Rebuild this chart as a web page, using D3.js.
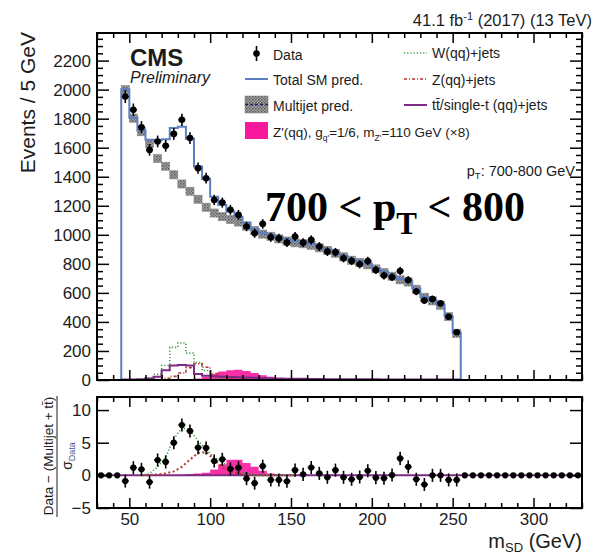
<!DOCTYPE html>
<html>
<head>
<meta charset="utf-8">
<script src="https://cdn.jsdelivr.net/npm/d3@7"></script>
<style>
  body { margin: 0; background: #fff; }
  svg { font-family: "Liberation Sans", Arial, sans-serif; }
</style>
</head>
<body>
<svg id="chart" width="595" height="555"></svg>
<script>
// bin centres (5 GeV bins)
const massCenters = d3.range(47.5, 255, 5);   // 45..255, 42 bins with data
const ratioCenters = d3.range(32.5, 330, 5);  // full axis, 60 bins
const curveCenters = d3.range(57.5, 155, 5);  // where the resonance curves live

// top panel, events / 5 GeV
const dataCounts = [1952, 1861, 1741, 1585, 1643, 1613, 1695, 1792, 1666, 1459,
  1390, 1240, 1222, 1172, 1137, 1057, 1011, 1075, 983, 976,
  946, 988, 946, 965, 919, 884, 880, 839, 820, 797,
  820, 758, 719, 708, 751, 689, 609, 547, 558, 528,
  436, 329];
const totalSM = [2003, 1806, 1718, 1655, 1652, 1658, 1735, 1745, 1662, 1470,
  1385, 1262, 1205, 1160, 1125, 1085, 1040, 1015, 1000, 983,
  968, 955, 947, 936, 918, 900, 880, 855, 832, 816,
  800, 771, 745, 720, 695, 680, 630, 574, 549, 519,
  440, 325];
const multijet = [2000, 1803, 1710, 1630, 1525, 1472, 1413, 1350, 1300, 1245,
  1190, 1150, 1125, 1105, 1088, 1060, 1030, 1005, 990, 972,
  957, 945, 938, 928, 910, 893, 873, 848, 825, 810,
  793, 765, 740, 715, 690, 675, 625, 570, 545, 515,
  436, 322];
const wJets = [0, 0, 3, 15, 40, 100, 225, 255, 185, 120,
  65, 25, 10, 5, 3, 2, 1, 1, 1, 1,
  1, 0, 0, 0, 0, 0, 0, 0, 0, 0,
  0, 0, 0, 0, 0, 0, 0, 0, 0, 0,
  0, 0];
const zJets = [0, 0, 1, 2, 5, 12, 25, 48, 85, 112,
  88, 45, 22, 10, 5, 3, 1, 1, 0, 0,
  0, 0, 0, 0, 0, 0, 0, 0, 0, 0,
  0, 0, 0, 0, 0, 0, 0, 0, 0, 0,
  0, 0];
const ttJets = [3, 4, 5, 10, 22, 68, 100, 103, 100, 42,
  30, 26, 23, 21, 19, 17, 15, 13, 11, 10,
  9, 8, 8, 7, 7, 6, 6, 6, 5, 5,
  5, 5, 4, 4, 4, 4, 4, 3, 3, 3,
  3, 3];
const zPrime = [0, 0, 0, 0, 0, 0, 0, 2, 5, 10,
  22, 42, 58, 68, 70, 62, 48, 33, 22, 14,
  9, 5, 2, 0, 0, 0, 0, 0, 0, 0,
  0, 0, 0, 0, 0, 0, 0, 0, 0, 0,
  0, 0];

// lower panel, (Data - (Multijet + tt)) / sigma
const ratioData = [0, 0, 0,
  -0.87, 1.17, 0.92, -1.03, 2.35, 2.05, 5.0, 7.7, 6.8, 4.25,
  4.2, 2.2, 2.45, 1.0, 1.17, -0.5, -1.2, 1.4, -0.7, -0.7,
  -0.9, 0.8, 0.15, 1.2, 0.3, -0.3, 0.8, -0.3, -0.6, -0.25,
  0.7, -0.35, -0.45, 0.05, 2.6, 1.3, -0.6, -1.4, 0, 0,
  -0.7, -0.7,
  0, 0, 0, 0, 0, 0, 0, 0, 0, 0, 0, 0, 0, 0, 0];
const ratioWZ = [0, 0.3, 1.3, 2.8, 5.6, 7.3, 6.9, 5.3, 3.9, 2.8,
  2.0, 1.2, 0.6, 0.3, 0.1, 0, 0, 0, 0, 0];
const ratioZ = [0, 0.05, 0.15, 0.3, 0.6, 1.3, 2.4, 3.4, 3.6, 2.4,
  1.2, 0.6, 0.3, 0.15, 0.05, 0, 0, 0, 0, 0];
const ratioZp = [0, 0, 0, 0, 0.05, 0.1, 0.2, 0.3, 0.4, 0.9,
  1.7, 2.4, 2.4, 1.9, 1.3, 0.7, 0.3, 0.15, 0.05, 0];

const xTicks = [50, 100, 150, 200, 250, 300];
const yTicks = [0, 200, 400, 600, 800, 1000, 1200, 1400, 1600, 1800, 2000, 2200];
const rTicks = [-5, 0, 5, 10];

const colors = {
  total: "#5b7fc0",
  w: "#3f9a4a",
  z: "#b8352c",
  tt: "#7e2a85",
  zp: "#f7189c",
  text: "#1c1c1c"
};

const svg = d3.select("#chart");
const L = 97, R = 582;
const T1 = 33, B1 = 380, T2 = 397, B2 = 508;
const half = 2.5, mjErr = 28;

const x = d3.scaleLinear().domain([30, 330]).range([L, R]);
const y = d3.scaleLinear().domain([0, 2390]).range([B1, T1]);
const yr = d3.scaleLinear().domain([-5, 12]).range([B2, T2]);

const defs = svg.append("defs");
const pat = defs.append("pattern")
  .attr("id", "mjPat")
  .attr("width", 3).attr("height", 3)
  .attr("patternUnits", "userSpaceOnUse");
pat.append("rect").attr("width", 3).attr("height", 3).attr("fill", "#a9a9a9");
pat.append("rect").attr("width", 1.5).attr("height", 1.5).attr("fill", "#555");
pat.append("rect").attr("x", 1.5).attr("y", 1.5).attr("width", 1.5).attr("height", 1.5).attr("fill", "#6e6e6e");

const stepPts = (cs, vs) => {
  const p = cs.map((c, i) => [c - half, vs[i]]);
  p.push([cs[cs.length - 1] + half, vs[vs.length - 1]]);
  return p;
};
const histPts = (cs, vs) => {
  const p = stepPts(cs, vs);
  p.unshift([cs[0] - half, 0]);
  p.push([cs[cs.length - 1] + half, 0]);
  return p;
};
const stepLine = (ys) => d3.line().curve(d3.curveStepAfter).x((d) => x(d[0])).y((d) => ys(d[1]));
const stepArea = (ys) => d3.area().curve(d3.curveStepAfter).x((d) => x(d[0])).y0(ys(0)).y1((d) => ys(d[1]));

// ---------- top panel ----------
const upper = svg.append("g");

upper.append("path")
  .attr("d", stepArea(y)(stepPts(massCenters, zPrime)))
  .attr("fill", colors.zp)
  .attr("opacity", 0.9);

upper.selectAll(".mj")
  .data(massCenters)
  .enter()
  .append("rect")
  .attr("class", "mj")
  .attr("x", (d) => x(d - half))
  .attr("width", (d) => x(d + half) - x(d - half))
  .attr("y", (d, i) => y(multijet[i] + mjErr))
  .attr("height", (d, i) => y(multijet[i] - mjErr) - y(multijet[i] + mjErr))
  .attr("fill", "url(#mjPat)")
  .attr("stroke", "#8a8a8a")
  .attr("stroke-width", 0.6);

upper.append("path")
  .attr("d", stepLine(y)(histPts(massCenters, wJets)))
  .attr("fill", "none").attr("stroke", colors.w)
  .attr("stroke-width", 1.6).attr("stroke-dasharray", "1.2,2");

upper.append("path")
  .attr("d", stepLine(y)(histPts(massCenters, zJets)))
  .attr("fill", "none").attr("stroke", colors.z)
  .attr("stroke-width", 1.6).attr("stroke-dasharray", "3,2,1,2");

upper.append("path")
  .attr("d", stepLine(y)(histPts(massCenters, ttJets)))
  .attr("fill", "none").attr("stroke", colors.tt)
  .attr("stroke-width", 2);

upper.append("path")
  .attr("d", stepLine(y)(histPts(massCenters, totalSM)))
  .attr("fill", "none").attr("stroke", colors.total)
  .attr("stroke-width", 2);

const pts = upper.selectAll(".pt")
  .data(massCenters)
  .enter()
  .append("g")
  .attr("class", "pt");
pts.append("line")
  .attr("x1", (d) => x(d)).attr("x2", (d) => x(d))
  .attr("y1", (d, i) => y(dataCounts[i] + Math.sqrt(dataCounts[i])))
  .attr("y2", (d, i) => y(dataCounts[i] - Math.sqrt(dataCounts[i])))
  .attr("stroke", "#000").attr("stroke-width", 1.6);
pts.append("line")
  .attr("x1", (d) => x(d - half) + 0.5).attr("x2", (d) => x(d + half) - 0.5)
  .attr("y1", (d, i) => y(dataCounts[i])).attr("y2", (d, i) => y(dataCounts[i]))
  .attr("stroke", "#000").attr("stroke-width", 1.4);
pts.append("circle")
  .attr("cx", (d) => x(d)).attr("cy", (d, i) => y(dataCounts[i]))
  .attr("r", 3.3).attr("fill", "#000");

// ---------- lower panel ----------
const lower = svg.append("g");

lower.append("path")
  .attr("d", stepArea(yr)(stepPts(curveCenters, ratioZp)))
  .attr("fill", colors.zp).attr("opacity", 0.9);

lower.append("line")
  .attr("x1", L).attr("x2", R)
  .attr("y1", yr(0)).attr("y2", yr(0))
  .attr("stroke", colors.tt).attr("stroke-width", 2);

const curve = d3.line().x((d) => x(d[0])).y((d) => yr(d[1]));
lower.append("path")
  .attr("d", curve(curveCenters.map((c, i) => [c, ratioZ[i]])))
  .attr("fill", "none").attr("stroke", colors.z)
  .attr("stroke-width", 2).attr("stroke-dasharray", "2,2.5");
lower.append("path")
  .attr("d", curve(curveCenters.map((c, i) => [c, ratioWZ[i]])))
  .attr("fill", "none").attr("stroke", colors.w)
  .attr("stroke-width", 1.6).attr("stroke-dasharray", "1.2,2");

const hasData = (c) => c > 45 && c < 255;
const rp = lower.selectAll(".rp")
  .data(ratioCenters.map((c, i) => ({ c, v: ratioData[i] })))
  .enter()
  .append("g")
  .attr("class", "rp");
rp.filter((d) => hasData(d.c)).append("line")
  .attr("x1", (d) => x(d.c)).attr("x2", (d) => x(d.c))
  .attr("y1", (d) => yr(d.v + 1))
  .attr("y2", (d) => yr(d.v - 1))
  .attr("stroke", "#000").attr("stroke-width", 1.6);
rp.filter((d) => hasData(d.c)).append("line")
  .attr("x1", (d) => x(d.c - half) + 0.5).attr("x2", (d) => x(d.c + half) - 0.5)
  .attr("y1", (d) => yr(d.v)).attr("y2", (d) => yr(d.v))
  .attr("stroke", "#000").attr("stroke-width", 1.4);
rp.append("circle")
  .attr("cx", (d) => x(d.c))
  .attr("cy", (d) => yr(d.v))
  .attr("r", 3.1).attr("fill", "#000");

// ---------- axes & frames ----------
const minorX = d3.range(30, 331, 10).filter((v) => v % 50 !== 0);
const intFmt = (v) => (v < 0 ? "\u2212" : "") + Math.abs(v);
const styleAxis = (g) => {
  g.select(".domain").remove();
  g.selectAll("line").attr("stroke", "#000").attr("stroke-width", 1.5);
  g.selectAll("text").attr("fill", colors.text).style("font-size", "17px");
};

function xFrameTicks(t, b, labels) {
  svg.append("g").attr("transform", `translate(0,${t})`)
    .call(d3.axisTop(x).tickValues(xTicks).tickSize(-10).tickFormat("")).call(styleAxis);
  svg.append("g").attr("transform", `translate(0,${t})`)
    .call(d3.axisTop(x).tickValues(minorX).tickSize(-5).tickFormat("")).call(styleAxis);
  svg.append("g").attr("transform", `translate(0,${b})`)
    .call(d3.axisBottom(x).tickValues(xTicks).tickSize(-10).tickPadding(5)
      .tickFormat(labels ? intFmt : "")).call(styleAxis);
  svg.append("g").attr("transform", `translate(0,${b})`)
    .call(d3.axisBottom(x).tickValues(minorX).tickSize(-5).tickFormat("")).call(styleAxis);
}
xFrameTicks(T1, B1, false);
xFrameTicks(T2, B2, true);

const minorY = d3.range(0, 2390, 50).filter((v) => v % 200 !== 0);
svg.append("g").attr("transform", `translate(${L},0)`)
  .call(d3.axisLeft(y).tickValues(yTicks).tickSize(-12).tickPadding(6).tickFormat(intFmt)).call(styleAxis);
svg.append("g").attr("transform", `translate(${L},0)`)
  .call(d3.axisLeft(y).tickValues(minorY).tickSize(-6).tickFormat("")).call(styleAxis);
svg.append("g").attr("transform", `translate(${R},0)`)
  .call(d3.axisRight(y).tickValues(yTicks).tickSize(-12).tickFormat("")).call(styleAxis);
svg.append("g").attr("transform", `translate(${R},0)`)
  .call(d3.axisRight(y).tickValues(minorY).tickSize(-6).tickFormat("")).call(styleAxis);

svg.append("g").attr("transform", `translate(${L},0)`)
  .call(d3.axisLeft(yr).tickValues(rTicks).tickSize(-12).tickPadding(6).tickFormat(intFmt)).call(styleAxis);
svg.append("g").attr("transform", `translate(${R},0)`)
  .call(d3.axisRight(yr).tickValues(rTicks).tickSize(-12).tickFormat("")).call(styleAxis);

[[T1, B1], [T2, B2]].forEach(([t, b]) => {
  svg.append("rect")
    .attr("x", L).attr("y", t)
    .attr("width", R - L).attr("height", b - t)
    .attr("fill", "none").attr("stroke", "#000").attr("stroke-width", 2);
});

// ---------- titles ----------
svg.append("text")
  .attr("transform", "translate(35,32) rotate(-90)")
  .attr("text-anchor", "end")
  .style("font-size", "21px").attr("fill", colors.text)
  .text("Events / 5 GeV");

svg.append("text")
  .attr("transform", "translate(53,456) rotate(-90)")
  .attr("text-anchor", "middle")
  .style("font-size", "13.5px").attr("fill", colors.text)
  .text("Data \u2212 (Multijet + tt\u0304)");
svg.append("line")
  .attr("x1", 57).attr("x2", 57).attr("y1", 396).attr("y2", 517)
  .attr("stroke", colors.text).attr("stroke-width", 1);
const sig = svg.append("text")
  .attr("transform", "translate(72,456) rotate(-90)")
  .attr("text-anchor", "middle")
  .style("font-size", "14px").attr("fill", colors.text);
sig.append("tspan").text("\u03c3");
sig.append("tspan").attr("dy", 3).style("font-size", "9px").attr("fill", "#3d5a8c").text("Data");

const xt = svg.append("text")
  .attr("x", R).attr("y", 548)
  .attr("text-anchor", "end")
  .style("font-size", "20px").attr("fill", colors.text);
xt.append("tspan").text("m");
xt.append("tspan").attr("dy", 4).style("font-size", "13px").text("SD");
xt.append("tspan").attr("dy", -4).text(" (GeV)");

const lumi = svg.append("text")
  .attr("x", 592).attr("y", 26)
  .attr("text-anchor", "end")
  .style("font-size", "16.5px").attr("fill", colors.text);
lumi.append("tspan").text("41.1 fb");
lumi.append("tspan").attr("dy", -6).style("font-size", "11px").text("-1");
lumi.append("tspan").attr("dy", 6).text(" (2017) (13 TeV)");

svg.append("text")
  .attr("x", 130).attr("y", 66)
  .style("font-size", "24px").style("font-weight", "bold").attr("fill", colors.text)
  .text("CMS");
svg.append("text")
  .attr("x", 130).attr("y", 83)
  .style("font-size", "16px").style("font-style", "italic").attr("fill", colors.text)
  .text("Preliminary");

const ptl = svg.append("text")
  .attr("x", 575).attr("y", 176)
  .attr("text-anchor", "end")
  .style("font-size", "14.5px").attr("fill", colors.text);
ptl.append("tspan").text("p");
ptl.append("tspan").attr("dy", 3).style("font-size", "9.5px").text("T");
ptl.append("tspan").attr("dy", -3).text(": 700-800 GeV");

const big = svg.append("text")
  .attr("x", 265).attr("y", 221)
  .style("font-family", "'Liberation Serif', 'Times New Roman', serif")
  .style("font-size", "42px").style("font-weight", "bold").attr("fill", "#000");
big.append("tspan").text("700 < p");
big.append("tspan").attr("dy", 13).style("font-size", "31px").text("T");
big.append("tspan").attr("dy", -13).text(" < 800");

// ---------- legend ----------
const leg = svg.append("g").style("font-size", "14px").attr("fill", colors.text);
const col1 = 245, col2 = 404, sw = 23;

// Data
leg.append("line").attr("x1", col1 + sw / 2).attr("x2", col1 + sw / 2)
  .attr("y1", 46).attr("y2", 61).attr("stroke", "#000").attr("stroke-width", 1.6);
leg.append("circle").attr("cx", col1 + sw / 2).attr("cy", 53.5).attr("r", 3.3).attr("fill", "#000");
leg.append("text").attr("x", 273).attr("y", 60).text("Data");

// Total SM
leg.append("line").attr("x1", col1).attr("x2", col1 + sw)
  .attr("y1", 79).attr("y2", 79).attr("stroke", colors.total).attr("stroke-width", 2);
leg.append("text").attr("x", 273).attr("y", 85).text("Total SM pred.");

// Multijet
leg.append("rect").attr("x", col1).attr("y", 96).attr("width", sw).attr("height", 17)
  .attr("fill", "url(#mjPat)").attr("stroke", "#8a8a8a").attr("stroke-width", 0.6);
leg.append("line").attr("x1", col1).attr("x2", col1 + sw)
  .attr("y1", 104.5).attr("y2", 104.5).attr("stroke", "#22226e")
  .attr("stroke-width", 1.4).attr("stroke-dasharray", "3,2");
leg.append("text").attr("x", 273).attr("y", 111).text("Multijet pred.");

// Z'
leg.append("rect").attr("x", col1).attr("y", 122).attr("width", sw).attr("height", 17)
  .attr("fill", colors.zp);
const zl = leg.append("text").attr("x", 273).attr("y", 137).style("font-size", "13.5px");
zl.append("tspan").text("Z'(qq), g");
zl.append("tspan").attr("dy", 4).style("font-size", "8.5px").text("q'");
zl.append("tspan").attr("dy", -4).text("=1/6, m");
zl.append("tspan").attr("dy", 4).style("font-size", "8.5px").text("Z'");
zl.append("tspan").attr("dy", -4).text("=110 GeV (\u00d78)");

// W, Z, tt
leg.append("line").attr("x1", col2).attr("x2", col2 + sw).attr("y1", 53).attr("y2", 53)
  .attr("stroke", colors.w).attr("stroke-width", 1.6).attr("stroke-dasharray", "1.2,2");
leg.append("text").attr("x", 432).attr("y", 58).text("W(qq)+jets");
leg.append("line").attr("x1", col2).attr("x2", col2 + sw).attr("y1", 79).attr("y2", 79)
  .attr("stroke", colors.z).attr("stroke-width", 1.6).attr("stroke-dasharray", "3,2,1,2");
leg.append("text").attr("x", 432).attr("y", 85).text("Z(qq)+jets");
leg.append("line").attr("x1", col2).attr("x2", col2 + sw).attr("y1", 105).attr("y2", 105)
  .attr("stroke", colors.tt).attr("stroke-width", 2);
leg.append("text").attr("x", 432).attr("y", 110).text("tt\u0304/single-t (qq)+jets");
</script>
</body>
</html>
